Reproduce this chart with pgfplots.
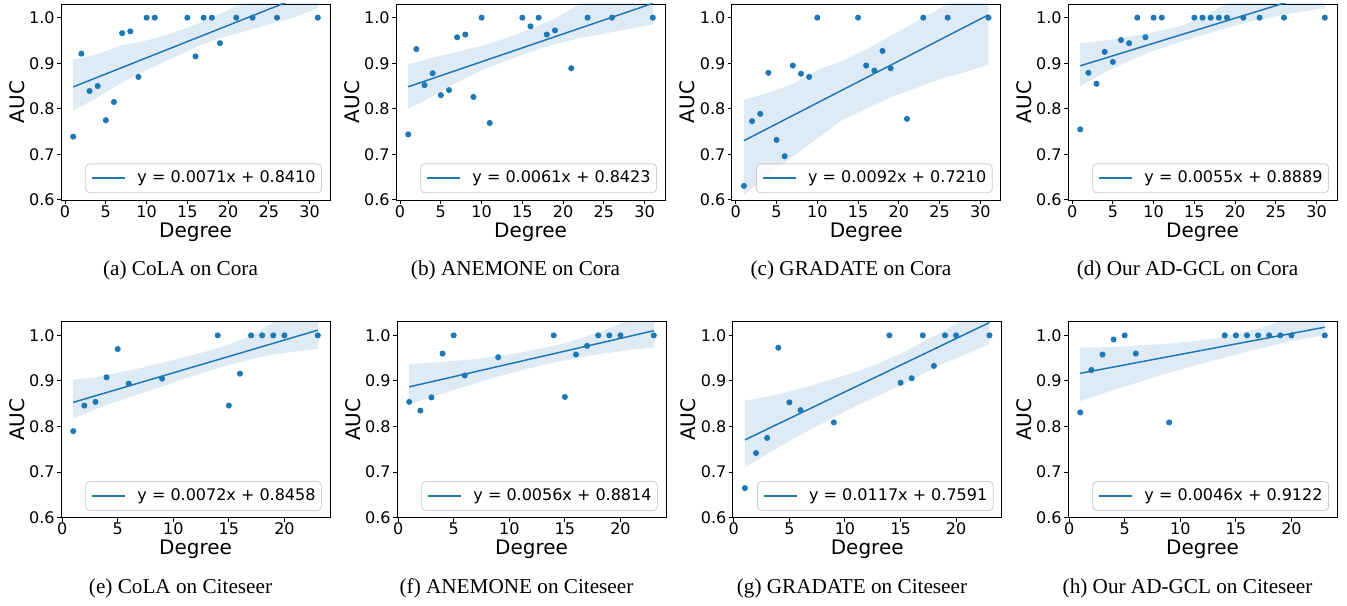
\documentclass[border=0pt]{standalone}
\usepackage{fontspec}
\setmainfont{DejaVu Sans}
\newfontfamily\capfont{Liberation Serif}
\usepackage{pgfplots}
\pgfplotsset{compat=1.18}
\definecolor{tabblue}{HTML}{1F77B4}

\pgfplotsset{
  regplot/.style={
    scale only axis, width=134.5pt, height=98pt,
    anchor=south west,
    ymin=0.6, ymax=1.03,
    ytick={0.6,0.7,0.8,0.9,1.0},
    yticklabel style={inner sep=1pt, /pgf/number format/.cd, fixed, fixed zerofill, precision=1},
    xticklabel style={inner sep=0.5pt},
    /pgf/number format/assume math mode=true,
    tick label style={font=\fontsize{8}{9.6}\selectfont},
    label style={font=\fontsize{8.6}{10}\selectfont},
    xlabel={Degree}, ylabel={AUC},
    every axis x label/.style={at={(axis description cs:0.5,-0.19)}, anchor=base, inner sep=0pt},
    every axis y label/.style={at={(axis description cs:-0.164,0.5)}, rotate=90, anchor=center},
    tick align=outside, xtick pos=left, ytick pos=left,
    major tick length=2pt,
    major tick style={black, line width=0.5pt},
    legend style={at={(0.97,0.035)}, anchor=south east,
      font=\fontsize{8}{9.6}\selectfont, draw=black!20, rounded corners=2pt,
      fill=white, fill opacity=0.8, draw opacity=1, text opacity=1,
      inner xsep=3pt, inner ysep=2pt,
      nodes={inner xsep=0pt, inner ysep=1.5pt}},
    legend cell align=left,
  },
  toprow/.style={regplot, xmin=-0.5, xmax=32.5, xtick={0,5,10,15,20,25,30}},
  botrow/.style={regplot, xmin=-0.1, xmax=24.1, xtick={0,5,10,15,20}},
  band/.style={fill=tabblue, fill opacity=0.15, draw=none, forget plot},
  dots/.style={only marks, mark=*, mark size=1.3pt, color=tabblue, forget plot},
  fit/.style={tabblue, line width=0.75pt, no markers,
    legend image code/.code={\draw[##1, line width=0.8pt, draw opacity=1] (0pt,0pt) -- (16.5pt,0pt);
      \path[draw=none, fill=none] (16.5pt,0pt) -- (22.5pt,0pt);}},
}

\begin{document}
\begin{tikzpicture}
\path[use as bounding box] (0,0) rectangle (673.5pt,302.5pt);

% (a) CoLA on Cora
\begin{axis}[toprow, at={(30.5pt,202.5pt)}]
\addplot[band] coordinates {
  (1,0.908) (4,0.920) (7,0.940) (10,0.950) (13,0.965) (16,0.985) (19,1.008) (22,1.035) (25,1.060) (28,1.085) (31,1.110)
  (31,1.020) (28,1.000) (25,0.985) (22,0.970) (19,0.955) (16,0.935) (13,0.910) (10,0.885) (7,0.858) (4,0.825) (1,0.797)};
\addplot[dots] coordinates {
  (1,0.739) (2,0.921) (3,0.839) (4,0.850) (5,0.775) (6,0.815) (7,0.966) (8,0.970) (9,0.870) (10,1.0)
  (11,1.0) (15,1.0) (16,0.915) (17,1.0) (18,1.0) (19,0.944) (21,1.0) (23,1.0) (26,1.0) (31,1.0)};
\addplot[fit] coordinates {(1,0.8481) (31,1.0611)};
\addlegendentry{y = 0.0071x + 0.8410}
\end{axis}

% (b) ANEMONE on Cora
\begin{axis}[toprow, at={(198pt,202.5pt)}]
\addplot[band] coordinates {
  (1,0.898) (4,0.912) (7,0.925) (10,0.938) (13,0.955) (16,0.975) (19,0.998) (22,1.030) (25,1.055) (28,1.080) (31,1.105)
  (31,0.985) (28,0.975) (25,0.965) (22,0.955) (19,0.942) (16,0.925) (13,0.905) (10,0.885) (7,0.858) (4,0.828) (1,0.800)};
\addplot[dots] coordinates {
  (1,0.744) (2,0.931) (3,0.852) (4,0.878) (5,0.830) (6,0.841) (7,0.957) (8,0.963) (9,0.826) (10,1.0)
  (11,0.769) (15,1.0) (16,0.981) (17,1.0) (18,0.963) (19,0.972) (21,0.889) (23,1.0) (26,1.0) (31,1.0)};
\addplot[fit] coordinates {(1,0.8484) (31,1.0314)};
\addlegendentry{y = 0.0061x + 0.8423}
\end{axis}

% (c) GRADATE on Cora
\begin{axis}[toprow, at={(365.85pt,202.5pt)}]
\addplot[band] coordinates {
  (1,0.820) (4,0.835) (7,0.855) (10,0.885) (13,0.905) (16,0.930) (19,0.960) (22,0.990) (25,1.020) (28,1.050) (31,1.080)
  (31,0.897) (28,0.880) (25,0.865) (22,0.845) (19,0.825) (16,0.800) (13,0.775) (10,0.735) (7,0.695) (4,0.655) (1,0.611)};
\addplot[dots] coordinates {
  (1,0.631) (2,0.773) (3,0.789) (4,0.879) (5,0.732) (6,0.696) (7,0.895) (8,0.877) (9,0.870) (10,1.0)
  (15,1.0) (16,0.895) (17,0.884) (18,0.927) (19,0.889) (21,0.778) (23,1.0) (26,1.0) (31,1.0)};
\addplot[fit] coordinates {(1,0.7302) (31,1.0062)};
\addlegendentry{y = 0.0092x + 0.7210}
\end{axis}

% (d) Our AD-GCL on Cora
\begin{axis}[toprow, at={(534pt,202.5pt)}]
\addplot[band] coordinates {
  (1,0.944) (4,0.950) (7,0.958) (10,0.968) (13,0.980) (16,1.000) (19,1.032) (22,1.060) (25,1.090) (28,1.120) (31,1.150)
  (31,1.021) (28,1.013) (25,1.003) (22,0.992) (19,0.978) (16,0.962) (13,0.945) (10,0.928) (7,0.905) (4,0.880) (1,0.849)};
\addplot[dots] coordinates {
  (1,0.755) (2,0.879) (3,0.855) (4,0.925) (5,0.903) (6,0.951) (7,0.944) (8,1.0) (9,0.957) (10,1.0)
  (11,1.0) (15,1.0) (16,1.0) (17,1.0) (18,1.0) (19,1.0) (21,1.0) (23,1.0) (26,1.0) (31,1.0)};
\addplot[fit] coordinates {(1,0.8944) (31,1.0594)};
\addlegendentry{y = 0.0055x + 0.8889}
\end{axis}

% (e) CoLA on Citeseer
\begin{axis}[botrow, at={(30.5pt,43.65pt)}]
\addplot[band] coordinates {
  (1,0.903) (3,0.908) (5,0.918) (7,0.928) (9,0.940) (11,0.952) (13,0.965) (15,0.980) (17,1.000) (19,1.028) (21,1.050) (23,1.075)
  (23,0.970) (21,0.965) (19,0.958) (17,0.948) (15,0.935) (13,0.920) (11,0.905) (9,0.888) (7,0.872) (5,0.856) (3,0.838) (1,0.818)};
\addplot[dots] coordinates {
  (1,0.790) (2,0.846) (3,0.854) (4,0.908) (5,0.970) (6,0.894) (9,0.905) (14,1.0)
  (15,0.846) (16,0.916) (17,1.0) (18,1.0) (19,1.0) (20,1.0) (23,1.0)};
\addplot[fit] coordinates {(1,0.8530) (23,1.0114)};
\addlegendentry{y = 0.0072x + 0.8458}
\end{axis}

% (f) ANEMONE on Citeseer
\begin{axis}[botrow, at={(198.5pt,43.65pt)}]
\addplot[band] coordinates {
  (1,0.937) (3,0.940) (5,0.944) (7,0.948) (9,0.955) (11,0.962) (13,0.972) (15,0.983) (17,0.998) (19,1.015) (21,1.035) (23,1.055)
  (23,0.974) (21,0.968) (19,0.962) (17,0.955) (15,0.945) (13,0.935) (11,0.923) (9,0.910) (7,0.895) (5,0.880) (3,0.865) (1,0.849)};
\addplot[dots] coordinates {
  (1,0.854) (2,0.835) (3,0.864) (4,0.960) (5,1.0) (6,0.912) (9,0.952) (14,1.0)
  (15,0.865) (16,0.958) (17,0.977) (18,1.0) (19,1.0) (20,1.0) (23,1.0)};
\addplot[fit] coordinates {(1,0.8870) (23,1.0102)};
\addlegendentry{y = 0.0056x + 0.8814}
\end{axis}

% (g) GRADATE on Citeseer
\begin{axis}[botrow, at={(366.35pt,43.65pt)}]
\addplot[band] coordinates {
  (1,0.857) (3,0.865) (5,0.877) (7,0.890) (9,0.905) (11,0.920) (13,0.938) (15,0.960) (17,0.985) (19,1.012) (21,1.040) (23,1.070)
  (23,0.981) (21,0.960) (19,0.940) (17,0.915) (15,0.890) (13,0.868) (11,0.845) (9,0.820) (7,0.795) (5,0.768) (3,0.740) (1,0.711)};
\addplot[dots] coordinates {
  (1,0.665) (2,0.742) (3,0.775) (4,0.973) (5,0.853) (6,0.836) (9,0.809) (14,1.0)
  (15,0.896) (16,0.906) (17,1.0) (18,0.933) (19,1.0) (20,1.0) (23,1.0)};
\addplot[fit] coordinates {(1,0.7708) (23,1.0282)};
\addlegendentry{y = 0.0117x + 0.7591}
\end{axis}

% (h) Our AD-GCL on Citeseer
\begin{axis}[botrow, at={(534pt,43.65pt)}]
\addplot[band] coordinates {
  (1,0.973) (3,0.974) (5,0.976) (7,0.979) (9,0.982) (11,0.987) (13,0.993) (15,1.003) (17,1.015) (19,1.030) (21,1.045) (23,1.060)
  (23,1.000) (21,0.992) (19,0.982) (17,0.970) (15,0.958) (13,0.945) (11,0.932) (9,0.918) (7,0.903) (5,0.888) (3,0.872) (1,0.856)};
\addplot[dots] coordinates {
  (1,0.831) (2,0.924) (3,0.958) (4,0.991) (5,1.0) (6,0.960) (9,0.809) (14,1.0)
  (15,1.0) (16,1.0) (17,1.0) (18,1.0) (19,1.0) (20,1.0) (23,1.0)};
\addplot[fit] coordinates {(1,0.9168) (23,1.0180)};
\addlegendentry{y = 0.0046x + 0.9122}
\end{axis}

% sub-captions
\begin{scope}[every node/.style={font=\capfont\fontsize{10.6}{12.7}\selectfont}]
\node at (90.25pt,167.5pt) {(a) CoLA on Cora};
\node at (257.75pt,167.5pt) {(b) ANEMONE on Cora};
\node at (425.5pt,167.5pt) {(c) GRADATE on Cora};
\node at (593.75pt,167.5pt) {(d) Our AD-GCL on Cora};
\node at (90.25pt,8.5pt) {(e) CoLA on Citeseer};
\node at (258.25pt,8.5pt) {(f) ANEMONE on Citeseer};
\node at (426pt,8.5pt) {(g) GRADATE on Citeseer};
\node at (593.75pt,8.5pt) {(h) Our AD-GCL on Citeseer};
\end{scope}
\end{tikzpicture}
\end{document}
